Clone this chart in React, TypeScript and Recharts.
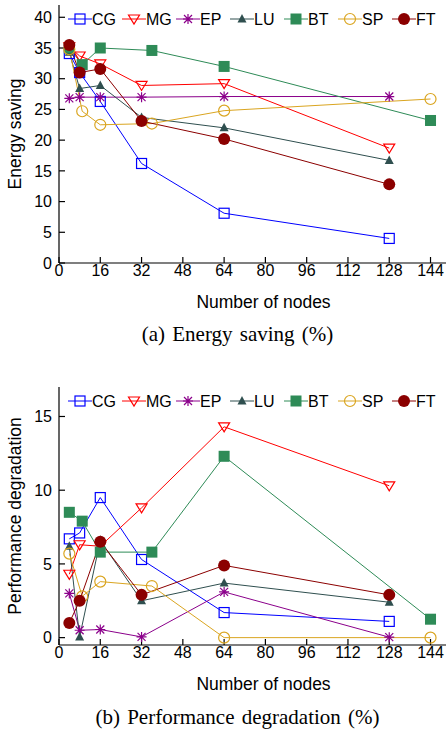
import { LineChart, Line, XAxis, YAxis, Label } from 'recharts';

const nodesPow2 = [4, 8, 16, 32, 64, 128];
const nodesSquare = [4, 9, 16, 36, 64, 144];
const xTicks = [0, 16, 32, 48, 64, 80, 96, 112, 128, 144];
const energyTicks = [0, 5, 10, 15, 20, 25, 30, 35, 40];
const degrTicks = [0, 5, 10, 15];

const benchNames = ['CG', 'MG', 'EP', 'LU', 'BT', 'SP', 'FT'];
const benchColors = ['#0000ff', '#ff0000', '#8b008b', '#2f4f4f', '#2e8b57', '#daa520', '#8b0000'];
const benchMarkers = ['openSquare', 'openTriDown', 'star', 'triUp', 'square', 'openCircle', 'circle'];
// BT and SP run on square node counts
const benchNodes = [nodesPow2, nodesPow2, nodesPow2, nodesPow2, nodesSquare, nodesSquare, nodesPow2];

// energy saving (%)
const energyCG = [34.1, 31.0, 26.3, 16.2, 8.1, 4.0];
const energyMG = [35.2, 33.7, 32.4, 28.9, 29.2, 18.7];
const energyEP = [26.8, 27.0, 27.0, 27.0, 27.1, 27.1];
const energyLU = [34.3, 28.4, 28.9, 23.7, 22.0, 16.7];
const energyBT = [35.0, 32.3, 35.0, 34.6, 32.0, 23.2];
const energySP = [34.8, 24.7, 22.5, 22.7, 24.8, 26.7];
const energyFT = [35.5, 31.0, 31.6, 23.1, 20.2, 12.8];

// performance degradation (%)
const degrCG = [6.7, 7.1, 9.5, 5.3, 1.7, 1.1];
const degrMG = [4.3, 6.3, 6.2, 8.8, 14.3, 10.3];
const degrEP = [3.0, 0.5, 0.55, 0.05, 3.1, 0.03];
const degrLU = [6.2, 0.05, 6.6, 2.5, 3.7, 2.4];
const degrBT = [8.5, 7.9, 5.8, 5.8, 12.3, 1.25];
const degrSP = [5.7, 2.8, 3.8, 3.5, 0, 0];
const degrFT = [1.0, 2.5, 6.5, 2.9, 4.9, 2.9];

const energySeries = [energyCG, energyMG, energyEP, energyLU, energyBT, energySP, energyFT];
const degrSeries = [degrCG, degrMG, degrEP, degrLU, degrBT, degrSP, degrFT];

const FONT = "'Liberation Sans', Arial, Helvetica, sans-serif";
const SERIF = "'Liberation Serif', 'Times New Roman', serif";
const W = 447;
const H = 315;

function Marker({ cx, cy, kind, color }: { cx?: number; cy?: number; kind: string; color: string }) {
  if (cx == null || cy == null) return null;
  switch (kind) {
    case 'openSquare':
      return <rect x={cx - 5} y={cy - 5} width={10} height={10} fill="none" stroke={color} strokeWidth={1.2} />;
    case 'square':
      return <rect x={cx - 5.5} y={cy - 5.5} width={11} height={11} fill={color} />;
    case 'openTriDown':
      return (
        <polygon
          points={`${cx - 5.5},${cy - 4} ${cx + 5.5},${cy - 4} ${cx},${cy + 5}`}
          fill="none"
          stroke={color}
          strokeWidth={1.2}
        />
      );
    case 'triUp':
      return <polygon points={`${cx - 4.5},${cy + 3.5} ${cx + 4.5},${cy + 3.5} ${cx},${cy - 5}`} fill={color} />;
    case 'openCircle':
      return <circle cx={cx} cy={cy} r={5.5} fill="none" stroke={color} strokeWidth={1.2} />;
    case 'circle':
      return <circle cx={cx} cy={cy} r={6} fill={color} />;
    default:
      return (
        <path
          d={`M${cx - 5},${cy}H${cx + 5}M${cx},${cy - 5}V${cy + 5}M${cx - 4},${cy - 4}L${cx + 4},${cy + 4}M${cx - 4},${cy + 4}L${cx + 4},${cy - 4}`}
          stroke={color}
          strokeWidth={1.2}
        />
      );
  }
}

function ChartKey() {
  return (
    <svg width={W} height={40} style={{ position: 'absolute', left: 0, top: 0 }}>
      {benchNames.map((name, i) => {
        const x0 = 68 + i * 54;
        return (
          <g key={name}>
            <line x1={x0} x2={x0 + 24} y1={19} y2={19} stroke={benchColors[i]} strokeWidth={1} />
            <Marker cx={x0 + 12} cy={19} kind={benchMarkers[i]} color={benchColors[i]} />
            <text x={x0 + 24} y={25} fontSize={16} fontFamily={FONT} fill="#000">
              {name}
            </text>
          </g>
        );
      })}
    </svg>
  );
}

function Panel({ series, yDomain, yTicks, yTitle }: { series: number[][]; yDomain: number[]; yTicks: number[]; yTitle: string }) {
  const tickStyle = { fontSize: 16, fontFamily: FONT, fill: '#000' };
  return (
    <div style={{ position: 'relative', width: W, height: H }}>
      <LineChart width={W} height={H} margin={{ top: 5, right: 1, bottom: 0, left: 0 }}>
        <XAxis
          dataKey="x"
          type="number"
          domain={[0, 150]}
          ticks={xTicks}
          height={52}
          tick={tickStyle}
          tickSize={-6}
          tickMargin={8}
          stroke="#000"
          strokeWidth={1.2}
          interval={0}
        >
          <Label
            content={(p: any) => {
              const vb = p.viewBox || { x: 59, y: 263, width: 387 };
              return (
                <text x={vb.x + vb.width / 2 + 11} y={vb.y + 45} textAnchor="middle" fontSize={17.5} fontFamily={FONT} fill="#000">
                  Number of nodes
                </text>
              );
            }}
          />
        </XAxis>
        <XAxis
          xAxisId="top"
          orientation="top"
          type="number"
          domain={[0, 150]}
          ticks={xTicks}
          height={0}
          tick={false}
          tickSize={-6}
          stroke="#000"
          strokeWidth={1.2}
          interval={0}
        />
        <YAxis
          type="number"
          domain={yDomain}
          ticks={yTicks}
          width={59}
          tick={tickStyle}
          tickSize={-6}
          tickMargin={13}
          stroke="#000"
          strokeWidth={1.2}
          interval={0}
          allowDataOverflow
        >
          <Label
            content={(p: any) => {
              const vb = p.viewBox || { x: 0, y: 5, height: 258 };
              return (
                <text
                  transform={`translate(20.7,${vb.y + vb.height / 2}) rotate(-90)`}
                  textAnchor="middle"
                  fontSize={17.5}
                  fontFamily={FONT}
                  fill="#000"
                >
                  {yTitle}
                </text>
              );
            }}
          />
        </YAxis>
        <YAxis
          yAxisId="right"
          orientation="right"
          type="number"
          domain={yDomain}
          ticks={yTicks}
          width={0}
          tick={false}
          tickSize={-6}
          stroke="#000"
          strokeWidth={1.2}
          interval={0}
        />
        {benchNames.map((name, i) => (
          <Line
            key={name}
            name={name}
            data={benchNodes[i].map((x, j) => ({ x, v: series[i][j] }))}
            dataKey="v"
            type="linear"
            stroke={benchColors[i]}
            strokeWidth={1}
            isAnimationActive={false}
            dot={(p: any) => (
              <Marker key={`${name}-${p.index}`} cx={p.cx} cy={p.cy} kind={benchMarkers[i]} color={benchColors[i]} />
            )}
            activeDot={false}
          />
        ))}
      </LineChart>
      <ChartKey />
    </div>
  );
}

function Caption({ baseline, text }: { baseline: number; text: string }) {
  return (
    <svg width={W} height={30} style={{ position: 'absolute', left: 0, top: baseline - 22 }}>
      <text x={237.5} y={22} textAnchor="middle" fontSize={21} fontFamily={SERIF} wordSpacing={2} fill="#000">
        {text}
      </text>
    </svg>
  );
}

export default function App() {
  return (
    <div style={{ position: 'absolute', left: 0, top: 0, width: W, height: 730, background: '#fff' }}>
      <div style={{ position: 'absolute', left: 0, top: 0 }}>
        <Panel series={energySeries} yDomain={[0, 42]} yTicks={energyTicks} yTitle="Energy saving" />
      </div>
      <Caption baseline={340.7} text="(a) Energy saving (%)" />
      <div style={{ position: 'absolute', left: 0, top: 382 }}>
        <Panel series={degrSeries} yDomain={[-0.5, 17]} yTicks={degrTicks} yTitle="Performance degradation" />
      </div>
      <Caption baseline={724.3} text="(b) Performance degradation (%)" />
    </div>
  );
}
